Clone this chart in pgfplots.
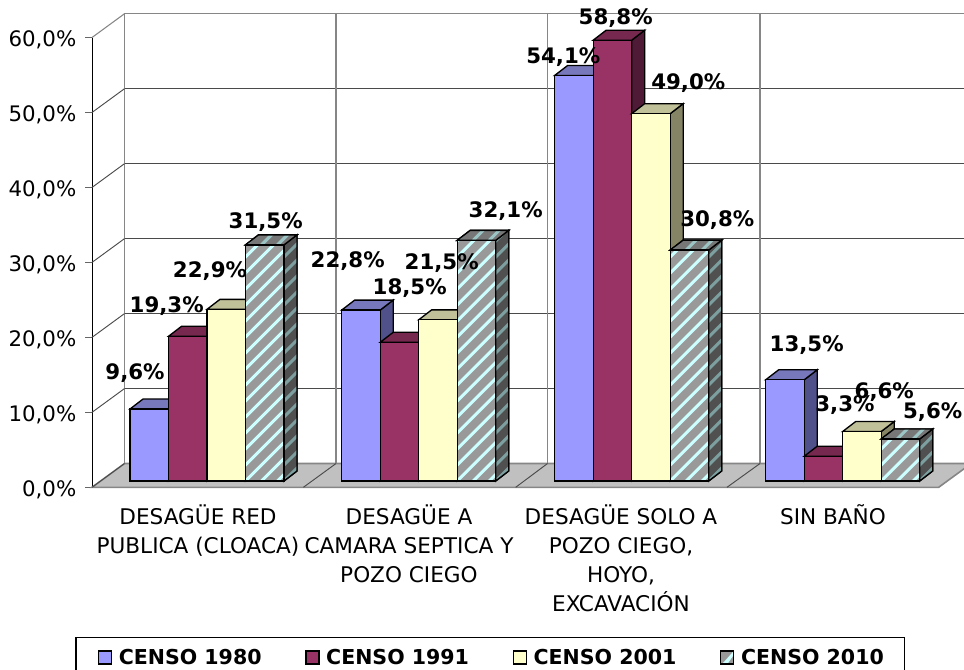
\documentclass[border=0pt]{standalone}
\usepackage{fontspec}
\setmainfont{DejaVu Sans}
\usepackage{pgfplots}
\pgfplotsset{compat=1.18}
\definecolor{cA}{HTML}{9999FF}\definecolor{cAt}{HTML}{7777BB}\definecolor{cAs}{HTML}{50508A}
\definecolor{cB}{HTML}{993366}\definecolor{cBt}{HTML}{76284F}\definecolor{cBs}{HTML}{4F1A35}
\definecolor{cC}{HTML}{FFFFCC}\definecolor{cCt}{HTML}{C0C099}\definecolor{cCs}{HTML}{858566}
\definecolor{cD}{HTML}{999999}\definecolor{cDc}{HTML}{CCFFFF}
\definecolor{cDt}{HTML}{777777}\definecolor{cDtc}{HTML}{9CC4C4}
\definecolor{cDs}{HTML}{505050}\definecolor{cDsc}{HTML}{7D9F9F}
\definecolor{gridc}{HTML}{4A4A4A}\definecolor{wallc}{HTML}{868686}\definecolor{floorc}{HTML}{C0C0C0}
\tikzset{
  hatch/.style n args={2}{fill=#1,draw=black,line width=1pt,
    path picture={\begin{scope}[shift={(path picture bounding box.south west)}]
      \foreach \stripe in {-30,...,4}{\draw[#2,line width=2.3pt] (\stripe*12pt,0pt) -- ++(400pt,400pt);}
    \end{scope}}},
}
% top and side faces of one bar: left edge, value, options of the top, options of the side
\newcommand\faces[4]{%
  \pgfmathsetmacro\xr{#1+38.5}\pgfmathsetmacro\xa{#1+13}\pgfmathsetmacro\xb{#1+51.5}\pgfmathsetmacro\vb{#2+1.333}%
  \addplot[forget plot,draw=black,line width=1pt,#4] coordinates {(\xr,#2) (\xb,\vb) (\xb,1.333) (\xr,0)} -- cycle;
  \addplot[forget plot,draw=black,line width=1pt,#3] coordinates {(#1,#2) (\xa,\vb) (\xb,\vb) (\xr,#2)} -- cycle;
}
% stripes of the hatched series: left edge, value
\newcommand\stripes[2]{%
  \path[hatch={cDs}{cDsc}] (axis cs:#1+38.5,#2) -- (axis cs:#1+51.5,#2+1.333) -- (axis cs:#1+51.5,1.333) -- (axis cs:#1+38.5,0) -- cycle;
  \path[hatch={cDt}{cDtc}] (axis cs:#1,#2) -- (axis cs:#1+13,#2+1.333) -- (axis cs:#1+51.5,#2+1.333) -- (axis cs:#1+38.5,#2) -- cycle;
  \path[hatch={cD}{cDc}] (axis cs:#1,0) rectangle (axis cs:#1+38.5,#2);
}
\newcommand\lab[3]{\node[font=\fontsize{16}{18}\bfseries\selectfont,inner sep=0pt] at (axis cs:#1,#2) {#3};}
\begin{document}
\begin{tikzpicture}
\path[use as bounding box,clip] (0,0) rectangle (723pt,501.75pt);
% frame: walls, floor, ticks, tick labels
\begin{axis}[
  at={(69pt,136.275pt)},anchor=south west,scale only axis,width=635pt,height=337.35pt,
  clip=false,xmin=92,xmax=938.7,ymin=0,ymax=60,
  axis x line*=bottom,axis y line*=left,
  axis line style={black,line width=0.7pt,-},
  x axis line style={gridc,line width=1.4pt},
  ytick={0,10,20,30,40,50,60},
  y tick style={black!60,line width=0.8pt},
  tick align=outside,major tick length=5.25pt,
  yticklabel={\pgfmathprintnumber{\tick}\%},
  /pgf/number format/assume math mode=true,
  /pgf/number format/fixed,/pgf/number format/fixed zerofill,/pgf/number format/precision=1,/pgf/number format/use comma,
  yticklabel style={font=\fontsize{16}{18}\selectfont,xshift=-3pt,yshift=-2pt},
  xtick={198,409,621,833},
  x tick style={draw=none},
  xticklabels={{DESAGÜE RED\\PUBLICA (CLOACA)},{DESAGÜE A\\CAMARA SEPTICA Y\\POZO CIEGO},{DESAGÜE SOLO A\\POZO CIEGO,\\HOYO,\\EXCAVACIÓN},{SIN BAÑO}},
  xticklabel style={font=\fontsize{16.2}{21.7}\selectfont,align=center,yshift=-4.5pt},
  extra x ticks={92,303.4,515.7,727,938.7},
  extra x tick labels={},
  extra x tick style={major tick length=7.5pt,tick style={draw=gridc,line width=0.8pt}},
]
\addplot[forget plot,fill=floorc,draw=wallc,line width=1.2pt] coordinates {(92,0) (938.7,0) (971.2,3.17) (124.5,3.17)} -- cycle;
% back wall, horizontal
\addplot[forget plot,draw=wallc,line width=1pt] coordinates {(124.5,63.17) (971,63.17)};
\addplot[forget plot,draw=gridc,line width=0.75pt] coordinates {(124.5,53.17) (971,53.17)};
\addplot[forget plot,draw=gridc,line width=0.75pt] coordinates {(124.5,43.17) (971,43.17)};
\addplot[forget plot,draw=gridc,line width=0.75pt] coordinates {(124.5,33.17) (971,33.17)};
\addplot[forget plot,draw=gridc,line width=0.75pt] coordinates {(124.5,23.17) (971,23.17)};
\addplot[forget plot,draw=gridc,line width=0.75pt] coordinates {(124.5,13.17) (971,13.17)};
% back wall, vertical
\addplot[forget plot,draw=wallc,line width=1pt] coordinates {(124.5,3.17) (124.5,63.17)};
\addplot[forget plot,draw=wallc,line width=0.8pt] coordinates {(336,3.17) (336,63.17)};
\addplot[forget plot,draw=wallc,line width=0.8pt] coordinates {(547.5,3.17) (547.5,63.17)};
\addplot[forget plot,draw=wallc,line width=0.8pt] coordinates {(760,3.17) (760,63.17)};
% side wall
\addplot[forget plot,draw=wallc,line width=0.8pt] coordinates {(92,60) (124.5,63.17)};
\addplot[forget plot,draw=gridc,line width=0.7pt] coordinates {(92,50) (124.5,53.17)};
\addplot[forget plot,draw=gridc,line width=0.7pt] coordinates {(92,40) (124.5,43.17)};
\addplot[forget plot,draw=gridc,line width=0.7pt] coordinates {(92,30) (124.5,33.17)};
\addplot[forget plot,draw=gridc,line width=0.7pt] coordinates {(92,20) (124.5,23.17)};
\addplot[forget plot,draw=gridc,line width=0.7pt] coordinates {(92,10) (124.5,13.17)};
% floor dividers
\addplot[forget plot,draw=gridc,line width=0.7pt] coordinates {(92,0) (124.5,3.17)};
\addplot[forget plot,draw=gridc,line width=0.7pt] coordinates {(303.4,0) (336,3.17)};
\addplot[forget plot,draw=gridc,line width=0.7pt] coordinates {(515.7,0) (547.5,3.17)};
\addplot[forget plot,draw=gridc,line width=0.7pt] coordinates {(727,0) (760,3.17)};
\end{axis}
% bars, labels, legend: base plane sits 6.3 px above the front edge of the floor
\begin{axis}[
  at={(69pt,141pt)},anchor=south west,scale only axis,width=635pt,height=337.35pt,
  clip=false,xmin=92,xmax=938.7,ymin=0,ymax=60,axis lines=none,
  legend columns=4,legend cell align=left,
  legend image code/.code={\draw[#1,line width=0.9pt] (0pt,-4.875pt) rectangle (9.75pt,4.875pt);},
  legend style={at={(axis cs:75.3,-20.84)},anchor=north west,draw=black,line width=0.9pt,
    font=\fontsize{15.4}{18}\bfseries\selectfont,inner xsep=16.5pt,inner ysep=6.3pt,
    /tikz/every even column/.append style={column sep=30.8pt},
    /tikz/column 1/.style={column sep=3pt},/tikz/column 3/.style={column sep=3pt},
    /tikz/column 5/.style={column sep=3pt},/tikz/column 7/.style={column sep=3pt}},
]
% CENSO 1980
\faces{130}{9.6}{fill=cAt}{fill=cAs}\faces{341.7}{22.8}{fill=cAt}{fill=cAs}\faces{554.7}{54.1}{fill=cAt}{fill=cAs}\faces{765.7}{13.5}{fill=cAt}{fill=cAs}
\addplot[ybar,bar width=38.5,bar shift=0pt,fill=cA,draw=black,line width=1pt] coordinates {(149.25,9.6) (360.95,22.8) (573.95,54.1) (784.95,13.5)};
\addlegendentry{CENSO 1980}
% CENSO 1991
\faces{168.5}{19.3}{fill=cBt}{fill=cBs}\faces{380.2}{18.5}{fill=cBt}{fill=cBs}\faces{593.2}{58.8}{fill=cBt}{fill=cBs}\faces{804.2}{3.3}{fill=cBt}{fill=cBs}
\addplot[ybar,bar width=38.5,bar shift=0pt,fill=cB,draw=black,line width=1pt] coordinates {(187.75,19.3) (399.45,18.5) (612.45,58.8) (823.45,3.3)};
\addlegendentry{CENSO 1991}
% CENSO 2001
\faces{207}{22.9}{fill=cCt}{fill=cCs}\faces{418.7}{21.5}{fill=cCt}{fill=cCs}\faces{631.7}{49.0}{fill=cCt}{fill=cCs}\faces{842.7}{6.6}{fill=cCt}{fill=cCs}
\addplot[ybar,bar width=38.5,bar shift=0pt,fill=cC,draw=black,line width=1pt] coordinates {(226.25,22.9) (437.95,21.5) (650.95,49.0) (861.95,6.6)};
\addlegendentry{CENSO 2001}
% CENSO 2010
\faces{245.5}{31.5}{fill=cDt}{fill=cDs}\faces{457.2}{32.1}{fill=cDt}{fill=cDs}\faces{670.2}{30.8}{fill=cDt}{fill=cDs}\faces{881.2}{5.6}{fill=cDt}{fill=cDs}
\addplot[ybar,bar width=38.5,bar shift=0pt,fill=cD,draw=black,line width=1pt,
  legend image code/.code={\fill[cD,draw=none] (0pt,-4.875pt) rectangle (9.75pt,4.875pt);\fill[cDc,draw=none] (1pt,-4.875pt)--(5pt,-4.875pt)--(9.75pt,2pt)--(9.75pt,4.875pt)--cycle;\path[draw=black,fill=none,line width=0.9pt] (0pt,-4.875pt) rectangle (9.75pt,4.875pt);}]
  coordinates {(264.75,31.5) (476.45,32.1) (689.45,30.8) (900.45,5.6)};
\addlegendentry{CENSO 2010\hspace*{-3pt}}
\stripes{245.5}{31.5}
\stripes{457.2}{32.1}
\stripes{670.2}{30.8}
\stripes{881.2}{5.6}
\lab{135}{14.44}{9,6\%}
\lab{166.7}{23.33}{19,3\%}
\lab{210}{28.04}{22,9\%}
\lab{265.7}{34.57}{31,5\%}
\lab{347.7}{29.33}{22,8\%}
\lab{409.7}{25.77}{18,5\%}
\lab{441.7}{29.03}{21,5\%}
\lab{505.7}{36.04}{32,1\%}
\lab{563.3}{56.57}{54,1\%}
\lab{615.7}{61.77}{58,8\%}
\lab{688.3}{53.03}{49,0\%}
\lab{717.3}{34.8}{30,8\%}
\lab{806.7}{18.13}{13,5\%}
\lab{845}{10.13}{3,3\%}
\lab{884.3}{11.91}{6,6\%}
\lab{932.7}{9.24}{5,6\%}
\end{axis}
\end{tikzpicture}
\end{document}
